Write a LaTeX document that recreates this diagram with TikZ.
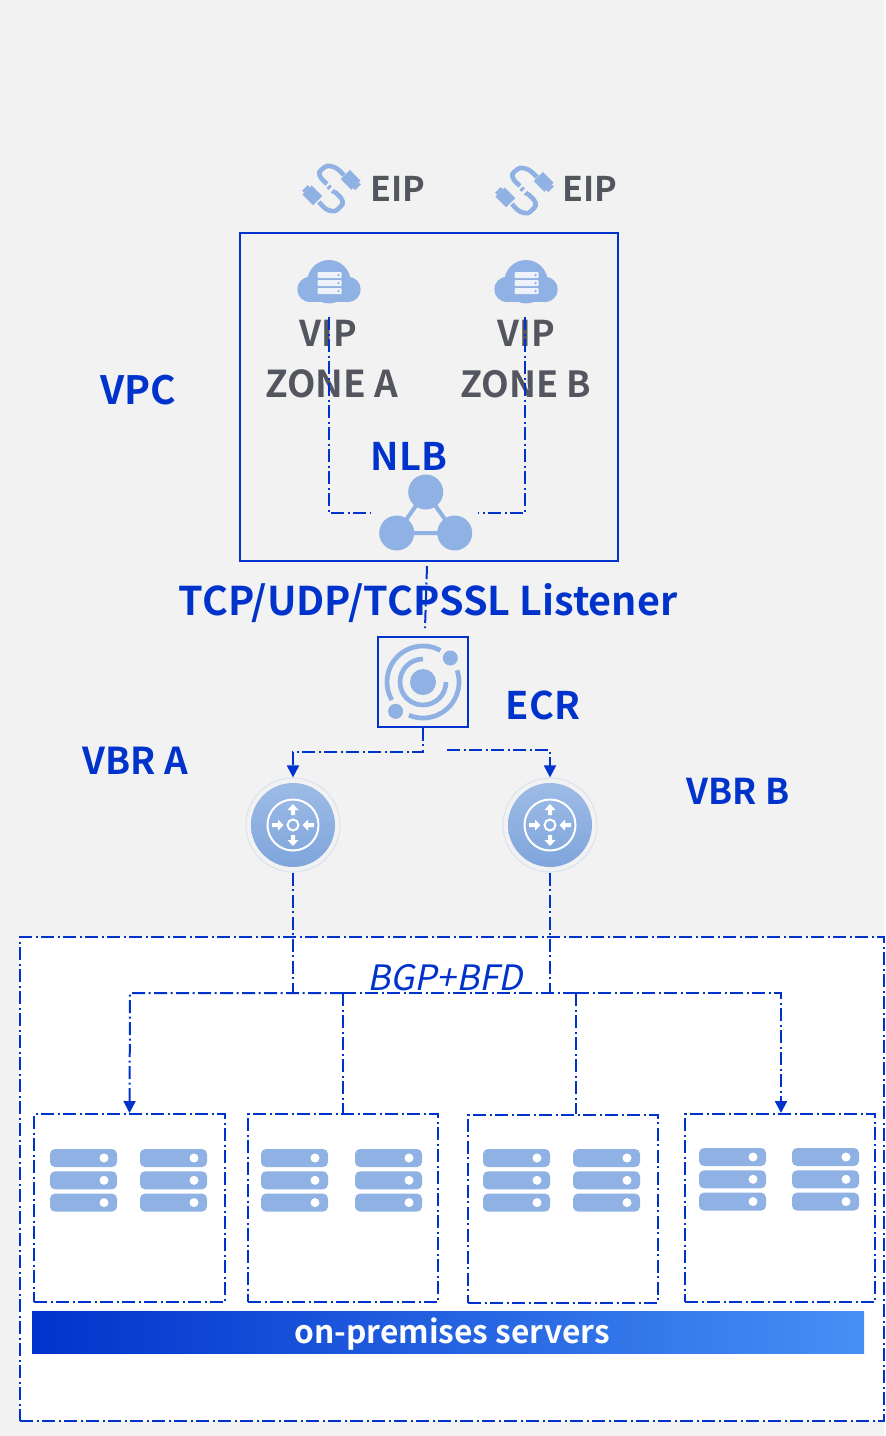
\documentclass[tikz,border=0pt]{standalone}
\usepackage{fontspec}
\setmainfont{Noto Sans CJK SC}[ItalicFont={Noto Sans CJK SC}, ItalicFeatures={FakeSlant=0.2}, BoldFont={Noto Sans CJK SC Bold}]
\usetikzlibrary{arrows.meta}

\definecolor{aliBlue}{HTML}{0033CC}
\definecolor{barBlue}{HTML}{4790F5}
\definecolor{iconBlue}{HTML}{8FB1E3}
\definecolor{discTop}{HTML}{9DBBE6}
\definecolor{discBottom}{HTML}{7FA5DC}
\definecolor{discRing}{HTML}{DDE4F0}
\definecolor{labelGrey}{HTML}{53565E}

\tikzset{
	link/.style={aliBlue, line width=2pt, dash pattern=on 13pt off 3.5pt on 2pt off 3.5pt},
	rackbox/.style={link, draw, fill=white, minimum width=190pt, minimum height=188pt, inner sep=0pt},
	blueText/.style={aliBlue, font=\fontsize{#1}{#1}\selectfont\bfseries, inner sep=0pt},
	greyText/.style={labelGrey, font=\fontsize{#1}{#1}\selectfont\bfseries, inner sep=0pt},
	vbrring/.style={draw=discRing, line width=1.2pt, circle, minimum size=94pt, inner sep=0pt},
	pics/serverrow/.style={code={
		\foreach \row in {0,22.3,44.6} {
			\fill[iconBlue, rounded corners=5pt] (0,\row) rectangle (67,\row+18);
			\fill[white] (54,\row+9) circle (4.5pt);
		}
	}},
	pics/cloudicon/.style={code={
		\fill[iconBlue] (0,0) circle (21.7pt);
		\fill[iconBlue] (-19,7.7) circle (12.7pt);
		\fill[iconBlue] (19,7.7) circle (12.7pt);
		\fill[iconBlue] (-19,7) rectangle (19,20.4);
		\foreach \row in {-9.7,-1.7,6.3} {
			\fill[white!85!iconBlue, rounded corners=1pt] (-11.3,\row) rectangle (12.7,\row+6.2);
			\fill[iconBlue] (9.5,\row+3.1) circle (1.3pt);
		}
	}},
	pics/eipicon/.style={code={
		\draw[iconBlue, line width=4.6pt] plot[smooth] coordinates {(-4,-4) (-10,-10) (-11.5,-16) (-4,-22) (5,-20) (13,-13)};
		\draw[iconBlue, line width=4.6pt] plot[smooth] coordinates {(4,4) (10,10) (11.5,16) (4,23) (-5,21) (-12,14)};
		\draw[iconBlue, line width=4.6pt] (-2.8,-1.8) to (-0.8,0.2);
		\draw[iconBlue, line width=4.6pt] (1.5,2.5) to (3.5,4.5);
		\foreach \pos/\turn in {{(20,-7.7)}/-45,{(-19,7)}/135} {
			\begin{scope}[shift={\pos}, rotate=\turn]
				\fill[iconBlue] (-8,-6.5) rectangle (7,6.5);
				\fill[iconBlue] (7,-4) rectangle (10,4);
			\end{scope}
		}
	}},
	pics/nlbicon/.style={code={
		\draw[iconBlue, line width=4pt] (0,-21) to (-29,20) to (29,20) to cycle;
		\fill[iconBlue] (0,-21) circle (17.5pt);
		\fill[iconBlue] (-29,20) circle (17.5pt);
		\fill[iconBlue] (29,20) circle (17.5pt);
	}},
	pics/ecricon/.style={code={
		\fill[iconBlue] (0,0) circle (13pt);
		\fill[iconBlue] (27.3,-24) circle (7.5pt);
		\fill[iconBlue] (-27.4,29.3) circle (7.5pt);
		\draw[iconBlue, line width=4.7pt] (61:36pt) arc[start angle=61, end angle=210, radius=36pt];
		\draw[iconBlue, line width=4.7pt] (247:36pt) arc[start angle=247, end angle=379, radius=36pt];
		\draw[iconBlue, line width=4.7pt] (90:23pt) arc[start angle=90, end angle=360, radius=23pt];
	}},
	pics/vbricon/.style={code={
		\shade[top color=discTop, bottom color=discBottom] (0,0) circle (42pt);
		\draw[white, line width=2pt] (0,0) circle (25.5pt);
		\draw[white, line width=2pt] (0,0) circle (5.5pt);
		\foreach \turn in {0,180}
			\fill[white, rotate=\turn] (-2,-10) -- (2,-10) -- (2,-15) -- (5.5,-15) -- (0,-21) -- (-5.5,-15) -- (-2,-15) -- cycle;
		\foreach \turn in {90,270}
			\fill[white, rotate=\turn] (-2,-21) -- (2,-21) -- (2,-15) -- (5.5,-15) -- (0,-9.5) -- (-5.5,-15) -- (-2,-15) -- cycle;
	}}
}

\begin{document}
\begin{tikzpicture}[x=1pt, y=-1pt, >={Triangle[width=12pt,length=12pt]}]
	% Hintergrund
	\fill[black!5] (0,0) rectangle (884,1436);
	\fill[white] (884,0) rectangle (886,1436);
	\useasboundingbox (0,0) rectangle (886,1436);

	% Rahmen
	\node[link, draw, fill=white, minimum width=864pt, minimum height=484pt, inner sep=0pt] (Onprem) at (452,1179) {};
	\node[aliBlue, draw, line width=1.7pt, minimum width=378pt, minimum height=328pt, inner sep=0pt] (VPC) at (429,397) {};
	\node[aliBlue, draw, line width=1.7pt, minimum size=90pt, inner sep=0pt] (ECR) at (423,682) {};
	\node[vbrring] (VBR-A) at (293,825) {};
	\node[vbrring] (VBR-B) at (550,825) {};
	\node[rackbox, minimum width=191pt] (Rack-1) at (129.5,1208) {};
	\node[rackbox] (Rack-2) at (343,1208) {};
	\node[rackbox] (Rack-3) at (563,1208.5) {};
	\node[rackbox] (Rack-4) at (780,1208) {};

	% Symbole
	\pic at (331,188) {eipicon};
	\pic at (524,190) {eipicon};
	\pic at (329,281.7) {cloudicon};
	\pic at (526,281.7) {cloudicon};
	\pic at (425.7,513) {nlbicon};
	\pic at (ECR.center) {ecricon};
	\pic at (VBR-A.center) {vbricon};
	\pic at (VBR-B.center) {vbricon};
	\pic at (50,1149) {serverrow};
	\pic at (140,1149) {serverrow};
	\pic at (261,1149) {serverrow};
	\pic at (355,1149) {serverrow};
	\pic at (483,1149) {serverrow};
	\pic at (573,1149) {serverrow};
	\pic at (699,1148) {serverrow};
	\pic at (792,1148) {serverrow};

	% Beschriftungen
	\node[greyText=34] (EIP-A) at (398,189) {EIP};
	\node[greyText=34] (EIP-B) at (590,189) {EIP};
	\node[greyText=35.5] (VIP-A) at (328,333) {VIP};
	\node[greyText=35.5] (VIP-B) at (526,333) {VIP};
	\node[greyText=37] (Zone-A) at (332,384) {ZONE A};
	\node[greyText=36] (Zone-B) at (526,384) {ZONE B};
	\node[blueText=39] (VPC-Label) at (138,390) {VPC};
	\node[blueText=38] (NLB-Label) at (409,456) {NLB};
	\node[blueText=39.5] (Listener) at (428,603) {TCP/UDP/TCPSSL Listener};
	\node[blueText=38] (ECR-Label) at (543,705) {ECR};
	\node[blueText=37] (VBR-A-Label) at (135,761) {VBR A};
	\node[blueText=35.5] (VBR-B-Label) at (738,791) {VBR B};
	\node[aliBlue, font=\fontsize{35}{35}\selectfont\itshape, inner sep=0pt] (BGP) at (445,978) {BGP+BFD};

	% Balken
	\node[left color=aliBlue, right color=barBlue, minimum width=832pt, minimum height=42pt, inner sep=0pt] (Servers) at (448,1332) {};
	\node[text=white, font=\fontsize{31.7}{31.7}\selectfont\bfseries, inner sep=0pt] (Servers-Label) at (452,1334) {on-premises servers};

	% Verbindungen
	\coordinate (VIP-A-Top) at (329,317);
	\coordinate (VIP-B-Top) at (525,317);
	\coordinate (NLB-Left) at (371,513);
	\coordinate (NLB-Right) at (478,513);
	\coordinate (VPC-Out) at (427,566);
	\coordinate (ECR-In) at (425,628);
	\coordinate (ECR-Right) at (447,750);
	\coordinate (Bus-1) at (130,993);
	\coordinate (Bus-2) at (343,993);
	\coordinate (Bus-3) at (576,993);
	\coordinate (Bus-4) at (781,993);
	\draw[link] (VIP-A-Top) |- (NLB-Left);
	\draw[link] (VIP-B-Top) |- (NLB-Right);
	\draw[link] (VPC-Out) to (ECR-In);
	\draw[link, ->] (ECR.south) -- ++(0,24) -| (VBR-A.north);
	\draw[link, ->] (ECR-Right) -| (VBR-B.north);
	\draw[link] (VBR-A.south) to (VBR-A.south |- Bus-1);
	\draw[link] (VBR-B.south) to (VBR-B.south |- Bus-1);
	\draw[link, ->] (Bus-2) -- (Bus-1) -- (Rack-1.north);
	\draw[link] (Bus-2) to (Rack-2.north);
	\draw[link] (Bus-3) to (Bus-3 |- Rack-3.north);
	\draw[link] (Bus-2) to (Bus-3);
	\draw[link, ->] (Bus-3) -- (Bus-4) -- (Bus-4 |- Rack-4.north);
\end{tikzpicture}
\end{document}
